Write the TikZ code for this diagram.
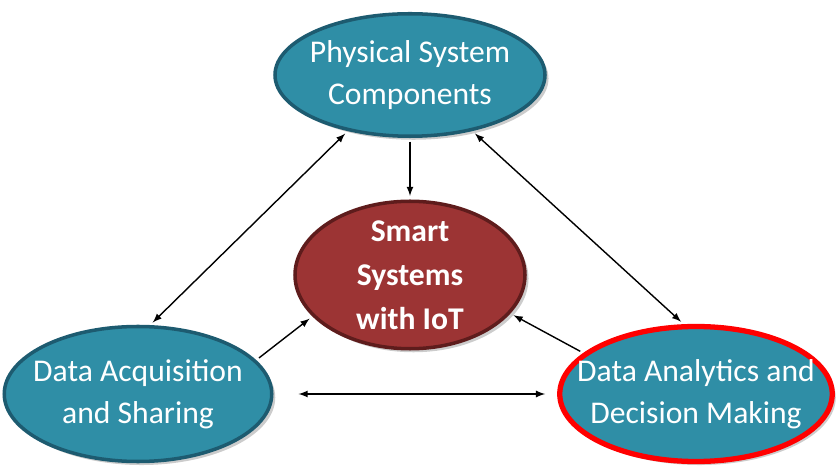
\documentclass[tikz,border=0pt]{standalone}
\usepackage{fontspec}
\setmainfont{Carlito}
\usetikzlibrary{shapes.geometric,shadows}
\definecolor{tealfill}{HTML}{2F8EA6}
\definecolor{tealline}{HTML}{1D5B70}
\definecolor{redfill}{HTML}{9C3434}
\definecolor{redline}{HTML}{5E1C1C}
\tikzset{
  blob/.style={ellipse,draw=tealline,line width=2pt,fill=tealfill,text=white,
    align=center,inner sep=-14pt,font=\fontsize{18}{24}\selectfont,
    drop shadow={shadow xshift=2pt,shadow yshift=-2pt,opacity=0.4}},
  link/.style={thick,black,shorten <=2pt,shorten >=2pt}
}
\begin{document}
\begin{tikzpicture}
\useasboundingbox (0,0) rectangle (16.8,9.38);
\node[blob,minimum width=5.4cm,minimum height=2.45cm] (phys) at (8.2,7.88) {Physical System\\Components};
\node[blob,draw=redline,fill=redfill,minimum width=4.6cm,minimum height=2.95cm,
  font=\bfseries\fontsize{18}{25}\selectfont] (smart) at (8.2,3.88) {Smart\\Systems\\with IoT};
\node[blob,minimum width=5.35cm,minimum height=2.7cm] (acq) at (2.76,1.5) {Data Acquisition\\and Sharing};
\node[blob,draw=red,line width=3pt,minimum width=5.45cm,minimum height=2.7cm] (ana) at (13.92,1.5) {Data Analytics and\\Decision Making};
% connectors
\draw[link,-latex] (phys) -- (smart);
\draw[link,latex-latex] (acq.80) -- (phys.222);
\draw[link,latex-latex] (phys.318) -- (ana.100);
\draw[link,-latex] (acq.16) -- (smart.203);
\draw[link,-latex] (ana.160) -- (smart.339);
\draw[link,latex-latex,shorten <=0.5cm,shorten >=0.24cm] (acq.east) -- (ana.west);
\end{tikzpicture}
\end{document}
